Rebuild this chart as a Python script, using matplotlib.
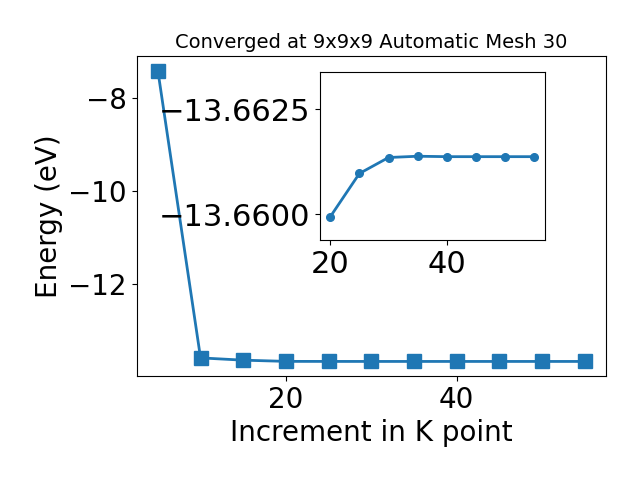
import matplotlib
matplotlib.use('Agg')
import matplotlib.pyplot as plt

# k-point increments and total energies (eV)
kpoints = [5, 10, 15, 20, 25, 30, 35, 40, 45, 50, 55]
energy = [-7.413, -13.585, -13.634, -13.65994, -13.66097, -13.66135,
          -13.66138, -13.66137, -13.66137, -13.66137, -13.66137]

# zoomed-in part for the inset (from 20 onwards)
inset_k = kpoints[3:]
inset_e = energy[3:]
inset_yticks = [-13.6625, -13.6600]

fig = plt.figure(figsize=(6.4, 4.8), dpi=100)
ax = fig.add_axes([0.2133, 0.2167, 0.7337, 0.6666])
ax.plot(kpoints, energy, marker='s', markersize=10, linewidth=2, color='#1f77b4')
ax.set_xlabel("Increment in K point", fontsize=20)
ax.set_ylabel("Energy (eV)", fontsize=20)
ax.set_title("Converged at 9x9x9 Automatic Mesh 30", fontsize=14)
ax.tick_params(labelsize=20)

# inset showing convergence detail
ins = fig.add_axes([0.5, 0.5, 0.351, 0.349])
ins.plot(inset_k, inset_e, marker='o', markersize=5.5, linewidth=2, color='#1f77b4')
ins.set_ylim(-13.65939, -13.66337)
ins.set_yticks(inset_yticks)
ins.set_yticklabels(["\u221213.6625", "\u221213.6600"])
ins.set_xticks([20, 40])
ins.tick_params(labelsize=22)

fig.savefig("out.png", dpi=100)
